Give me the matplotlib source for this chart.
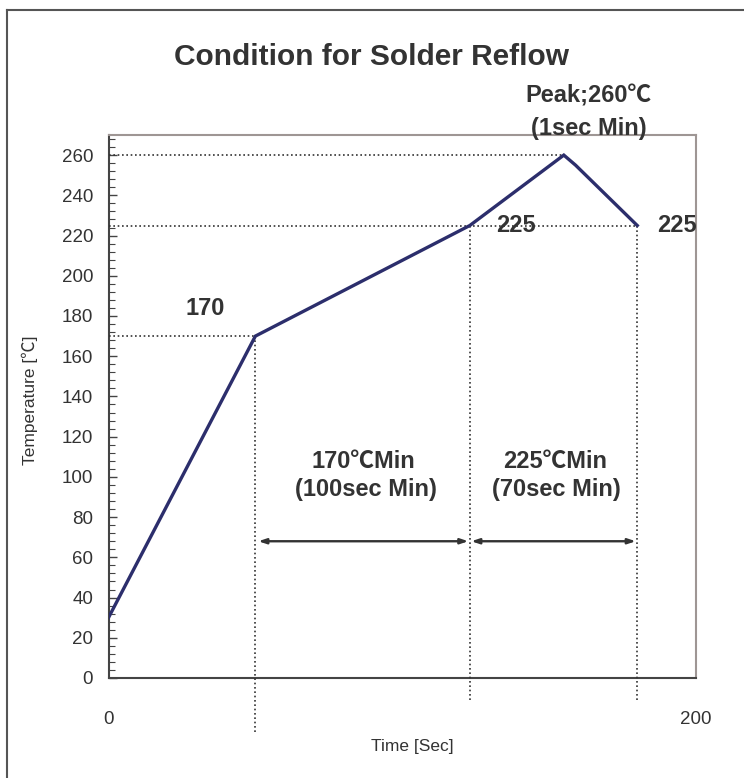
import matplotlib
matplotlib.use("Agg")
import matplotlib.pyplot as plt
from matplotlib.lines import Line2D
from matplotlib.ticker import MultipleLocator

plt.rcParams['font.family'] = ['Liberation Sans', 'Noto Sans CJK JP', 'DejaVu Sans']

# ---- data ----
time_s = [0, 50, 123, 155, 159, 180]
temp_c = [30, 170, 225, 260, 255, 225]

y_ticks = list(range(0, 261, 20))
x_ticks = [0, 200]

title = "Condition for Solder Reflow"
x_label = "Time [Sec]"
y_label = "Temperature [℃]"

label_170 = "170"
label_225a = "225"
label_225b = "225"
peak_lines = ["Peak;260℃", "(1sec Min)"]
zone1_lines = ["170℃Min", "(100sec Min)"]
zone2_lines = ["225℃Min", "(70sec Min)"]

# ---- figure ----
W, H = 744, 778
fig = plt.figure(figsize=(W / 100, H / 100), dpi=100)
ax = fig.add_axes([108.5 / W, 1 - 678 / H, (696 - 108.5) / W, (678 - 135) / H])

ax.set_xlim(0, 200)
ax.set_ylim(0, 270)

line_col = "#2c2e6c"
dot_col = "#333333"
txt_col = "#333333"

ax.plot(time_s, temp_c, color=line_col, lw=2.4, solid_joinstyle='miter', zorder=5)

# dotted guide lines
dots = dict(color=dot_col, lw=1.2, linestyle=(0, (1, 1.6)), clip_on=False, zorder=3)
ax.plot([0, time_s[3]], [temp_c[3], temp_c[3]], **dots)
ax.plot([0, time_s[5]], [temp_c[2], temp_c[2]], **dots)
ax.plot([0, time_s[1]], [temp_c[1], temp_c[1]], **dots)
ax.plot([time_s[1], time_s[1]], [temp_c[1], -27], **dots)
ax.plot([time_s[2], time_s[2]], [temp_c[2], -11], **dots)
ax.plot([time_s[5], time_s[5]], [temp_c[5], -11], **dots)

# arrows
arr_y = 68
arrow_kw = dict(arrowstyle='<|-|>,head_length=0.45,head_width=0.15', color="#333333", lw=1.7,
                shrinkA=0, shrinkB=0)
ax.annotate("", xy=(time_s[1] + 1, arr_y), xytext=(time_s[2] - 0.5, arr_y), arrowprops=arrow_kw)
ax.annotate("", xy=(time_s[2] + 0.5, arr_y), xytext=(time_s[5] - 0.5, arr_y), arrowprops=arrow_kw)

bold = dict(fontsize=17, fontweight='bold', color=txt_col, ha='center', va='center')
ax.text(33, 183.6, label_170, **bold)
ax.text(138.7, 225, label_225a, **bold)
ax.text(193.6, 225, label_225b, clip_on=False, **bold)
ax.text(163.5, 289.5, peak_lines[0], clip_on=False, **bold)
ax.text(163.5, 273, peak_lines[1], clip_on=False, **bold)
ax.text(86.8, 107.5, zone1_lines[0], **bold)
ax.text(87.5, 93.5, zone1_lines[1], **bold)
ax.text(152, 107.5, zone2_lines[0], **bold)
ax.text(152.5, 93.5, zone2_lines[1], **bold)

# axes styling
ax.set_yticks(y_ticks)
ax.yaxis.set_minor_locator(MultipleLocator(4))
ax.set_xticks(x_ticks)
ax.tick_params(axis='y', which='major', direction='in', length=6, width=1.0, color='#444444',
               labelsize=13.5, labelcolor=txt_col, pad=11)
ax.tick_params(axis='y', which='minor', direction='in', length=4, width=0.8, color='#444444')
ax.tick_params(axis='x', which='major', length=0, labelsize=13.5, labelcolor=txt_col, pad=24)

ax.spines['left'].set_color('#444444')
ax.spines['bottom'].set_color('#444444')
ax.spines['left'].set_linewidth(1.5)
ax.spines['bottom'].set_linewidth(1.5)
ax.spines['top'].set_color('#9e9694')
ax.spines['right'].set_color('#9e9694')
ax.spines['top'].set_linewidth(1.5)
ax.spines['right'].set_linewidth(1.5)

fig.text(30 / W, 1 - 400 / H, y_label, rotation=90, fontsize=12.5, color=txt_col,
         ha='center', va='center')
fig.text(412 / W, 1 - 747 / H, x_label, fontsize=12.5, color=txt_col, ha='center', va='center')
fig.text(371 / W, 1 - 57 / H, title, fontsize=21.5, fontweight='bold', color=txt_col,
         ha='center', va='center')

# figure border (left and top edges visible)
bx, by = 7 / W, 1 - 10 / H
fig.add_artist(Line2D([bx, bx], [0, by], color='#555555', lw=1.5, transform=fig.transFigure))
fig.add_artist(Line2D([bx, 1], [by, by], color='#555555', lw=1.5, transform=fig.transFigure))

fig.savefig("out.png", dpi=100)
